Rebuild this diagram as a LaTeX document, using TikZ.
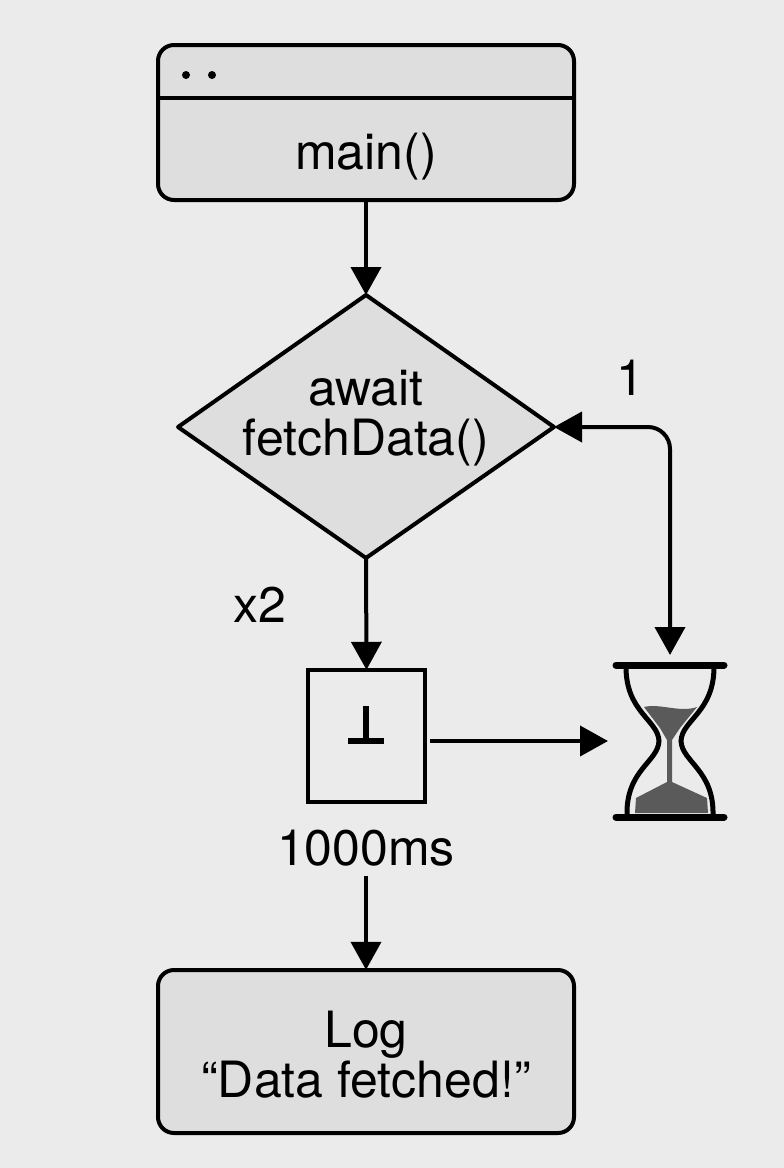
\documentclass[tikz,border=0pt]{standalone}
\usepackage{fontspec}
\setmainfont{TeX Gyre Heros}
\usetikzlibrary{arrows.meta}
\definecolor{bg}{HTML}{EBEBEB}
\definecolor{boxfill}{HTML}{DEDEDE}
\definecolor{sand}{HTML}{5A5A5A}
\begin{document}
\begin{tikzpicture}[x=1pt,y=-1pt,
  line/.style={line width=4pt,draw=black},
  arr/.style={line width=4pt,-{Triangle[length=28pt,width=30pt]}},
  lbl/.style={font=\fontsize{50}{56}\selectfont,inner sep=0pt}]
\fill[bg] (0,0) rectangle (784,1168);
\useasboundingbox (0,0) rectangle (784,1168);
% top box
\draw[line,fill=boxfill,rounded corners=16pt] (158,45) rectangle (574,200);
\node[minimum width=416pt,minimum height=155pt,inner sep=0pt] (main) at (366,122.5) {};
\draw[line] (158,98) -- (574,98);
\fill (186,75) circle (4pt) (212,75) circle (4pt);
\node[lbl] (maintxt) at (366,157) {main()};
% diamond
\draw[line,fill=boxfill,line join=round] (366,295) -- (554,427) -- (366,558) -- (178,427) -- cycle;
\coordinate (dtop) at (366,295);
\coordinate (dright) at (554,427);
\coordinate (dbot) at (366,558);
\node[lbl,align=center] (await) at (366,418) {await\\[-6pt]fetchData()};
\node[lbl] (one) at (630,378) {1};
\node[lbl] (x2) at (260,605) {x2};
% square
\draw[line width=3.5pt] (308,670) rectangle (425,802);
\node[minimum width=117pt,minimum height=132pt,inner sep=0pt] (sq) at (366.5,736) {};
\draw[line width=6pt] (366,706) -- (366,741);
\draw[line width=6pt] (348,741) -- (384,741);
\node[lbl] (ms) at (366,848) {1000ms};
% hourglass
\coordinate (hgtop) at (670,655);
\coordinate (hgleft) at (608,741);
\draw[line width=7pt,line cap=round] (616,665) -- (724,665) (616,817) -- (724,817);
\fill[sand] (644,707) .. controls (660,703) and (680,713) .. (697,707) -- (680,728) -- (672,740) -- (672,782) -- (707,798) -- (708,813) -- (635,813) -- (636,798) -- (667,782) -- (667,740) -- (660,728) -- cycle;
\draw[line width=5pt] (626,667) .. controls (626,712) and (658,720) .. (659,741) .. controls (658,762) and (626,770) .. (627,815);
\draw[line width=5pt] (714,667) .. controls (714,712) and (682,720) .. (681,741) .. controls (682,762) and (714,770) .. (713,815);
% bottom box
\draw[line,fill=boxfill,rounded corners=16pt] (158,970) rectangle (574,1133);
\node[minimum width=416pt,minimum height=163pt,inner sep=0pt] (log) at (366,1051.5) {};
\node[lbl,align=center] (logtxt) at (366,1055) {Log\\[-6pt]“Data fetched!\char34};
% connectors
\draw[arr] (main.south) -- (dtop);
\draw[arr] (dbot) -- (sq.north);
\draw[arr] (430,741) -- (hgleft);
\draw[line width=4pt,{Triangle[length=28pt,width=30pt]}-{Triangle[length=28pt,width=30pt]},rounded corners=22pt] (dright) -- (670,427) -- (hgtop);
\draw[arr] (366,876) -- (log.north);
\end{tikzpicture}
\end{document}
